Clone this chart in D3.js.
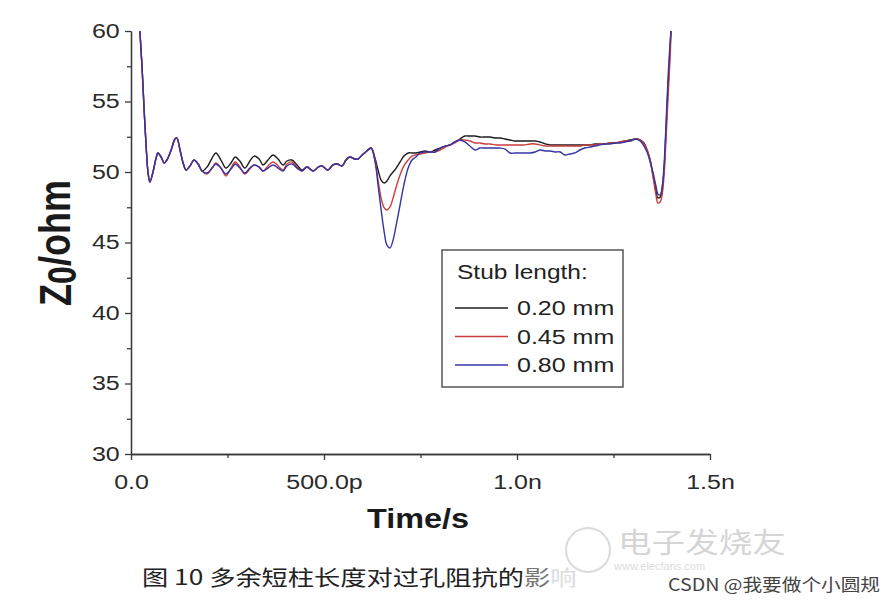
<!DOCTYPE html>
<html>
<head>
<meta charset="utf-8">
<script src="https://cdn.jsdelivr.net/npm/d3@7"></script>
<style>
  body { margin: 0; background: #fff; }
  svg { display: block; }
</style>
</head>
<body>
<div id="chart"></div>
<script>
// Time axis (ps) shared by all three traces
var timePs = [23,29,34,39,44,49,57,65,70,78,86,93,104,114,119,127,135,143,153,163,174,184,
  197,210,220,233,246,259,270,282,295,308,319,332,342,355,368,381,394,404,417,430,443,
  456,472,485,495,510,523,534,547,557,567,580,588,599,611,622,
  632,640,648,656,663,671,679,687,697,707,718,728,738,749,762,775,788,801,814,827,839,852,
  865,878,891,904,917,930,943,956,969,982,995,1008,1021,1034,1047,1060,1073,1086,1099,1112,
  1124,1137,1150,1163,1176,1189,1202,1215,1228,1241,1254,1267,1280,1293,
  1308,1319,1329,1337,1345,1352,1360,1365,1371,1376,1381,1386,1391,1397,1399];

// Z0 (ohm), stub length 0.20 mm
var zStub020 = [60.00,57.23,54.40,51.92,50.00,49.29,50.00,50.99,51.35,51.06,50.64,50.85,51.56,52.34,52.41,51.56,50.64,50.14,50.43,50.85,50.57,50.07,
  50.35,50.99,51.35,50.85,50.28,50.64,51.06,50.78,50.28,50.78,51.13,50.92,50.50,50.85,51.21,50.92,50.50,50.78,50.85,50.50,50.14,
  50.35,50.07,50.35,50.43,50.14,50.50,50.57,50.43,50.85,51.06,50.92,50.92,51.21,51.49,51.70,
  50.99,50.14,49.43,49.22,49.36,49.72,50.00,50.28,50.71,51.13,51.35,51.35,51.35,51.42,51.49,51.42,51.56,51.70,51.84,51.92,52.13,52.34,
  52.55,52.55,52.55,52.48,52.48,52.48,52.41,52.41,52.34,52.27,52.20,52.20,52.20,52.20,52.20,52.13,
  51.99,51.92,51.92,51.92,51.92,51.92,51.92,51.92,51.92,51.92,51.99,51.99,51.99,52.06,52.06,52.13,52.20,52.27,
  52.34,52.27,52.06,51.56,50.85,49.79,48.72,48.16,48.23,48.87,50.14,52.98,55.82,59.01,60.00];

// Z0 (ohm), stub length 0.45 mm
var zStub045 = [60.00,57.23,54.40,51.92,50.00,49.29,50.00,50.99,51.35,51.06,50.64,50.85,51.56,52.34,52.41,51.56,50.64,50.14,50.43,50.85,50.57,50.07,
  49.86,50.28,50.64,50.28,49.72,50.28,50.71,50.35,49.86,50.21,50.50,50.35,50.07,50.43,50.71,50.43,50.14,50.57,50.71,50.35,50.07,
  50.35,50.07,50.35,50.43,50.14,50.50,50.57,50.43,50.85,51.06,50.92,50.92,51.21,51.49,51.70,
  50.85,49.43,48.16,47.45,47.31,47.52,48.16,48.94,49.79,50.43,50.85,51.13,51.21,51.28,51.35,51.42,51.42,51.56,51.77,51.92,52.06,52.27,
  52.27,52.20,52.06,52.06,51.99,51.99,51.92,51.92,51.92,51.92,51.92,51.92,51.92,51.99,51.99,51.92,
  51.84,51.84,51.84,51.84,51.84,51.84,51.84,51.84,51.92,51.92,51.92,51.99,51.99,52.06,52.06,52.13,52.20,52.20,
  52.34,52.27,51.99,51.56,50.85,49.72,48.37,47.80,47.87,48.37,49.79,52.27,55.11,58.30,60.00];

// Z0 (ohm), stub length 0.80 mm
var zStub080 = [60.00,57.23,54.40,51.92,50.00,49.29,50.00,50.99,51.35,51.06,50.64,50.85,51.56,52.34,52.41,51.56,50.64,50.14,50.43,50.85,50.57,50.07,
  49.93,50.28,50.57,50.28,49.86,50.21,50.57,50.28,49.93,50.28,50.50,50.35,50.07,50.28,50.50,50.28,50.07,50.43,50.57,50.28,50.07,
  50.35,50.07,50.35,50.43,50.14,50.50,50.57,50.43,50.85,51.06,50.92,50.92,51.21,51.49,51.70,
  50.78,49.08,47.31,45.74,44.82,44.61,45.18,46.24,47.66,49.08,50.28,50.85,51.06,51.35,51.42,51.42,51.42,51.70,51.84,51.92,52.13,52.27,
  52.13,51.84,51.56,51.70,51.70,51.70,51.70,51.70,51.63,51.35,51.35,51.35,51.35,51.35,51.42,51.56,
  51.49,51.49,51.42,51.42,51.21,51.28,51.35,51.56,51.70,51.77,51.84,51.92,51.99,51.99,52.06,52.06,52.13,52.20,
  52.34,52.20,51.84,51.42,50.71,50.00,49.01,48.44,48.37,48.87,50.50,53.33,56.52,59.36,60.00];

var seriesNames = ["0.20 mm", "0.45 mm", "0.80 mm"];
var legendTitle = "Stub length:";

// Axis ticks and labels
var xTickValues = [0, 500, 1000, 1500];
var xTickLabels = ["0.0", "500.0p", "1.0n", "1.5n"];
var xMinorTicks = [250, 750, 1250];
var yTickValues = [30, 35, 40, 45, 50, 55, 60];
var yMinorTicks = [32.5, 37.5, 42.5, 47.5, 52.5, 57.5];

var caption = "图 10 多余短柱长度对过孔阻抗的";
var captionTail = ["影", "响"];
var watermark = "CSDN @我要做个小圆规";

// The source picture is stretched sideways, so text gets a horizontal scale too
var sx = 1.25;
var colors = ["#1c1c1c", "#cc3c3c", "#3434a6"];

var width = 892,
    height = 603;
var x0 = 131, x1 = 710, yTop = 31, yBottom = 454;

var svg = d3.select("#chart")
            .append("svg")
              .attr("width", width)
              .attr("height", height)
              .style("font-family", "'Liberation Sans', Arial, sans-serif");

var x = d3.scaleLinear().domain([0, 1500]).range([x0, x1]);
var y = d3.scaleLinear().domain([30, 60]).range([yBottom, yTop]);

// Minor ticks first, then the main axes
svg.append("g")
  .attr("transform", "translate(0," + yBottom + ")")
  .call(d3.axisBottom(x).tickValues(xMinorTicks).tickFormat("").tickSize(4).tickSizeOuter(0));
svg.append("g")
  .attr("transform", "translate(" + x0 + ",0)")
  .call(d3.axisLeft(y).tickValues(yMinorTicks).tickFormat("").tickSize(4).tickSizeOuter(0));

var xAxis = svg.append("g")
  .attr("transform", "translate(0," + yBottom + ")")
  .call(d3.axisBottom(x)
          .tickValues(xTickValues)
          .tickFormat(function(d, i) { return xTickLabels[i]; })
          .tickSize(6)
          .tickSizeOuter(0)
          .tickPadding(15));

var yAxis = svg.append("g")
  .attr("transform", "translate(" + x0 + ",0)")
  .call(d3.axisLeft(y)
          .tickValues(yTickValues)
          .tickSize(6)
          .tickSizeOuter(0)
          .tickPadding(3));

svg.selectAll(".domain, .tick line")
  .attr("stroke", "#3a3a3a")
  .attr("stroke-width", 1.3);

svg.selectAll(".tick text")
  .attr("font-family", "'Liberation Sans', Arial, sans-serif")
  .attr("font-size", 20)
  .attr("fill", "#2a2a2a")
  .attr("transform", "scale(" + sx + ",1)");
xAxis.selectAll(".tick text").attr("x", 0);

// Traces
var line = d3.line()
  .curve(d3.curveCatmullRom.alpha(0.5))
  .x(function(d) { return x(d[0]); })
  .y(function(d) { return y(d[1]); });

var series = [zStub020, zStub045, zStub080];
series.forEach(function(vals, k) {
  var pts = timePs.map(function(t, i) { return [t, vals[i]]; });
  svg.append("path")
    .datum(pts)
    .attr("d", line)
    .attr("fill", "none")
    .attr("stroke", colors[k])
    .attr("stroke-width", 1.4)
    .attr("stroke-linejoin", "round");
});

// Axis titles
svg.append("g")
  .attr("transform", "translate(418,528) scale(" + (sx * 0.96) + ",1)")
  .append("text")
    .attr("text-anchor", "middle")
    .attr("font-size", 27)
    .attr("font-weight", "bold")
    .attr("fill", "#1a1a1a")
    .text("Time/s");

var yTitle = svg.append("g")
  .attr("transform", "translate(55,243) rotate(-90) scale(1," + sx + ")")
  .append("text")
    .attr("text-anchor", "middle")
    .attr("dy", "0.35em")
    .attr("font-size", 36)
    .attr("font-weight", "bold")
    .attr("fill", "#1a1a1a");
yTitle.append("tspan").text("Z");
yTitle.append("tspan").attr("font-size", 32).attr("dy", "0.14em").text("0");
yTitle.append("tspan").attr("dy", "-0.14em").text("/ohm");

// Legend
var legend = svg.append("g").attr("transform", "translate(442,250)");
legend.append("rect")
  .attr("width", 181)
  .attr("height", 137)
  .attr("fill", "#fff")
  .attr("stroke", "#555")
  .attr("stroke-width", 1.5);
legend.append("g")
  .attr("transform", "translate(15,29) scale(" + (sx * 0.98) + ",1)")
  .append("text")
    .attr("font-size", 20)
    .attr("fill", "#222")
    .text(legendTitle);

var rows = legend.selectAll(".row")
  .data(seriesNames)
  .enter()
  .append("g")
    .attr("class", "row")
    .attr("transform", function(d, i) { return "translate(0," + (58 + i * 28.5) + ")"; });
rows.append("line")
  .attr("x1", 13)
  .attr("x2", 66)
  .attr("stroke", function(d, i) { return colors[i]; })
  .attr("stroke-width", 1.3);
rows.append("g")
  .attr("transform", "translate(75,7) scale(" + sx + ",1)")
  .append("text")
    .attr("font-size", 20)
    .attr("fill", "#222")
    .text(function(d) { return d; });

// Faint publisher watermark
var wm = svg.append("g").attr("opacity", 0.35);
wm.append("circle")
  .attr("cx", 588).attr("cy", 550).attr("r", 22)
  .attr("fill", "none").attr("stroke", "#999").attr("stroke-width", 2);
wm.append("g")
  .attr("transform", "translate(618,553) scale(1.2,1)")
  .append("text")
    .attr("font-family", "'Noto Sans CJK SC', sans-serif")
    .attr("font-size", 28)
    .attr("fill", "#888")
    .text("电子发烧友");
wm.append("text")
  .attr("x", 614).attr("y", 570)
  .attr("font-size", 11)
  .attr("fill", "#999")
  .text("www.elecfans.com");

// Figure caption
var cap = svg.append("g")
  .attr("transform", "translate(142,585) scale(" + sx + ",1)")
  .append("text")
    .attr("font-family", "'Noto Sans CJK SC', sans-serif")
    .attr("font-size", 21)
    .attr("fill", "#222");
cap.append("tspan").text(caption);
cap.append("tspan").attr("fill", "#777").text(captionTail[0]);
cap.append("tspan").attr("fill", "#ddd").text(captionTail[1]);

// CSDN watermark
svg.append("text")
  .attr("x", 668)
  .attr("y", 591)
  .attr("font-family", "'Noto Sans CJK SC', sans-serif")
  .attr("font-size", 17)
  .attr("fill", "#444")
  .attr("textLength", 212)
  .attr("lengthAdjust", "spacingAndGlyphs")
  .text(watermark);
</script>
</body>
</html>
